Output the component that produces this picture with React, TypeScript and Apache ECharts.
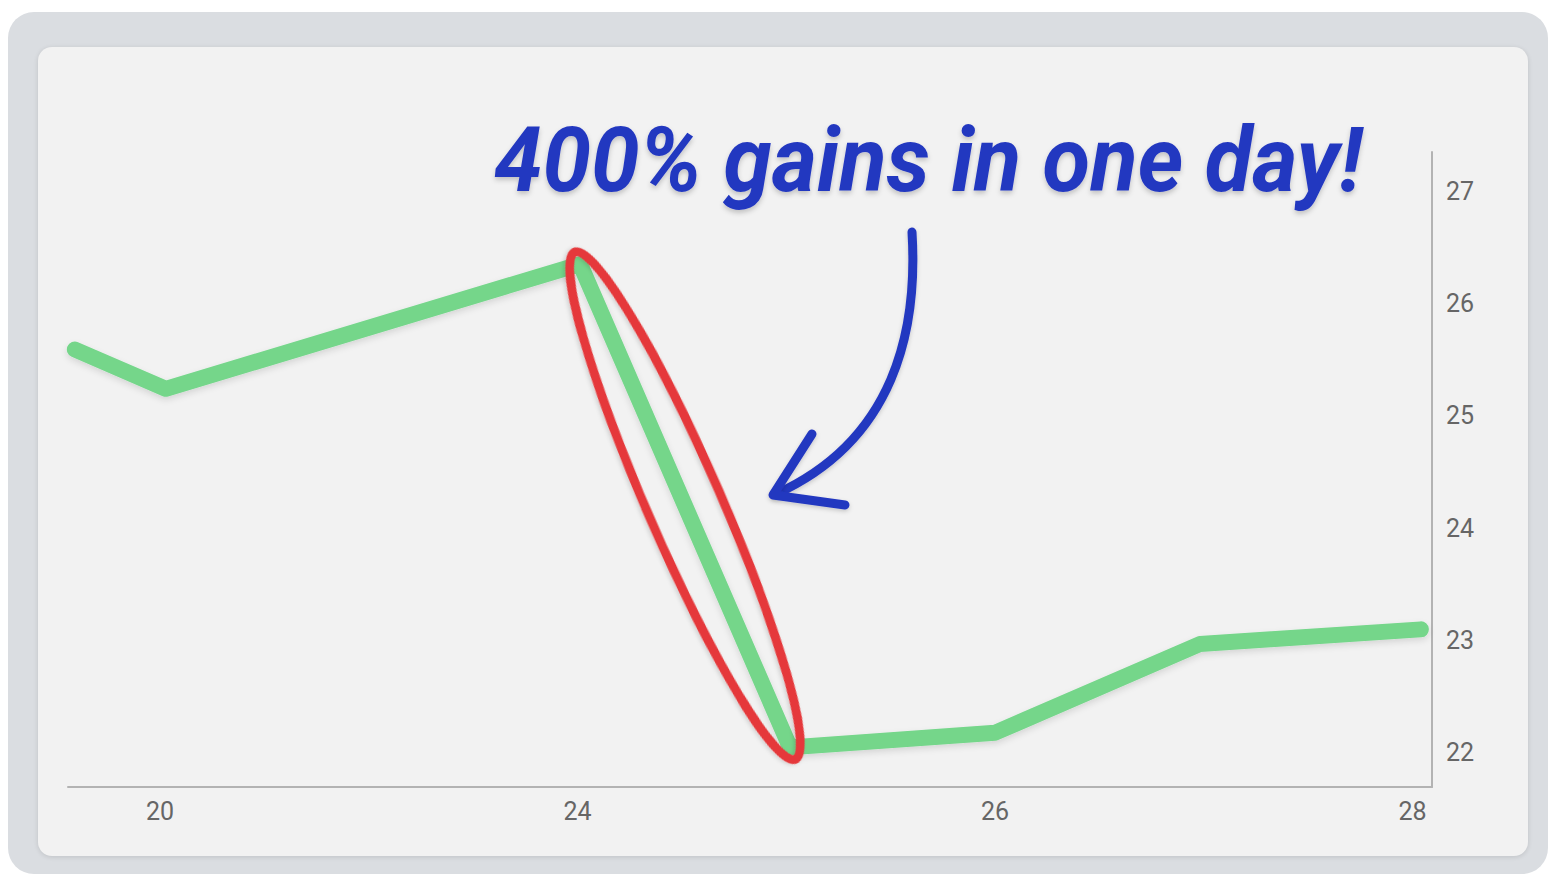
import React, { useEffect, useRef } from "react";
import * as echarts from "echarts";

// x positions are expressed in "tick slots": tick label i sits at x = i
const xTickPositions = [0, 1, 2, 3];
const xTickLabels = ["20", "24", "26", "28"];
const yTickValues = [22, 23, 24, 25, 26, 27];
const pointX = [-0.204, 0.014, 1.006, 1.509, 2.0, 2.491, 3.02];
const pointY = [25.59, 25.24, 26.35, 22.05, 22.18, 22.97, 23.1];
const annotationText = "400% gains in one day!";
const highlightFrom = 2;
const highlightTo = 3;

export default function App() {
  const ref = useRef<HTMLDivElement>(null);
  useEffect(() => {
    const chart = echarts.init(ref.current!, null, { renderer: "svg" });
    const fontFamily = "Roboto, 'Noto Sans', sans-serif";
    chart.setOption({
      animation: false,
      backgroundColor: "transparent",
      grid: { left: 68, right: 118, top: 152, bottom: 88, containLabel: false, outerBoundsMode: "none" },
      xAxis: {
        type: "value",
        min: -0.2204,
        max: 3.0467,
        axisLine: { show: true, onZero: false, lineStyle: { color: "#b3b3b3", width: 2 } },
        axisTick: { show: false },
        splitLine: { show: false },
        axisLabel: {
          customValues: xTickPositions,
          formatter: (v: number) => xTickLabels[Math.round(v)] ?? "",
          color: "#666666",
          fontSize: 25,
          fontFamily,
          margin: 12,
        },
      },
      yAxis: {
        type: "value",
        position: "right",
        min: 21.6975,
        max: 27.347,
        axisLine: { show: true, onZero: false, lineStyle: { color: "#b3b3b3", width: 2 } },
        axisTick: { show: false },
        splitLine: { show: false },
        axisLabel: {
          customValues: yTickValues,
          formatter: (v: number) => String(Math.round(v)),
          color: "#666666",
          fontSize: 25,
          fontFamily,
          margin: 14,
        },
      },
      series: [
        {
          type: "line",
          data: pointX.map((x, i) => [x, pointY[i]]),
          symbol: "none",
          z: 2,
          lineStyle: {
            color: "#74d68a",
            width: 16,
            cap: "round",
            join: "round",
            shadowBlur: 6,
            shadowColor: "rgba(0,0,0,0.12)",
            shadowOffsetY: 3,
          },
        },
      ],
    });

    const a = chart.convertToPixel({ gridIndex: 0 }, [pointX[highlightFrom], pointY[highlightFrom]]) as number[];
    const b = chart.convertToPixel({ gridIndex: 0 }, [pointX[highlightTo], pointY[highlightTo]]) as number[];
    const cx = (a[0] + b[0]) / 2;
    const cy = (a[1] + b[1]) / 2;
    const dx = b[0] - a[0];
    const dy = b[1] - a[1];
    const len = Math.sqrt(dx * dx + dy * dy);
    const ang = Math.atan2(dy, dx);

    const font = "italic 700 90px Roboto";
    const ctx = document.createElement("canvas").getContext("2d")!;
    ctx.font = font;
    const w = ctx.measureText(annotationText).width || 1000;
    const sx = 868 / w;

    chart.setOption({
      graphic: [
        {
          type: "ellipse",
          x: cx,
          y: cy,
          rotation: -ang,
          z: 20,
          shape: { cx: 0, cy: 0, rx: len / 2 + 13, ry: 37 },
          style: { fill: "none", stroke: "#e5393b", lineWidth: 9, shadowBlur: 4, shadowColor: "rgba(0,0,0,0.15)", shadowOffsetY: 2 },
        },
        {
          type: "bezierCurve",
          z: 20,
          shape: { x1: 912, y1: 232, cpx1: 918, cpy1: 330, cpx2: 895, cpy2: 440, x2: 776, y2: 494 },
          style: { fill: "none", stroke: "#2438c0", lineWidth: 9, lineCap: "round", shadowBlur: 4, shadowColor: "rgba(0,0,0,0.18)", shadowOffsetY: 2 },
        },
        {
          type: "polyline",
          z: 20,
          shape: { points: [[812, 434], [773, 495], [845, 505]] },
          style: { fill: "none", stroke: "#2438c0", lineWidth: 9, lineCap: "round", lineJoin: "round", shadowBlur: 4, shadowColor: "rgba(0,0,0,0.18)", shadowOffsetY: 2 },
        },
        {
          type: "text",
          x: 494,
          y: 161,
          scaleX: sx,
          z: 20,
          style: {
            text: annotationText,
            x: 0,
            y: 0,
            font,
            fill: "#2438c0",
            align: "left",
            verticalAlign: "middle",
            textShadowBlur: 5,
            textShadowColor: "rgba(0,0,0,0.2)",
            textShadowOffsetY: 3,
          },
        },
      ],
    });
    return () => chart.dispose();
  }, []);
  return (
    <div style={{ position: "fixed", left: 0, top: 0, width: 1550, height: 875, background: "#ffffff", overflow: "hidden" }}>
      <div style={{ position: "absolute", left: 8, top: 12, width: 1540, height: 862, borderRadius: 26, background: "#dadde1" }} />
      <div style={{ position: "absolute", left: 38, top: 47, width: 1490, height: 809, borderRadius: 14, background: "#f2f2f2", boxShadow: "0 1px 5px rgba(0,0,0,0.12)" }} />
      <div ref={ref} style={{ position: "absolute", left: 0, top: 0, width: 1550, height: 875 }} />
    </div>
  );
}
